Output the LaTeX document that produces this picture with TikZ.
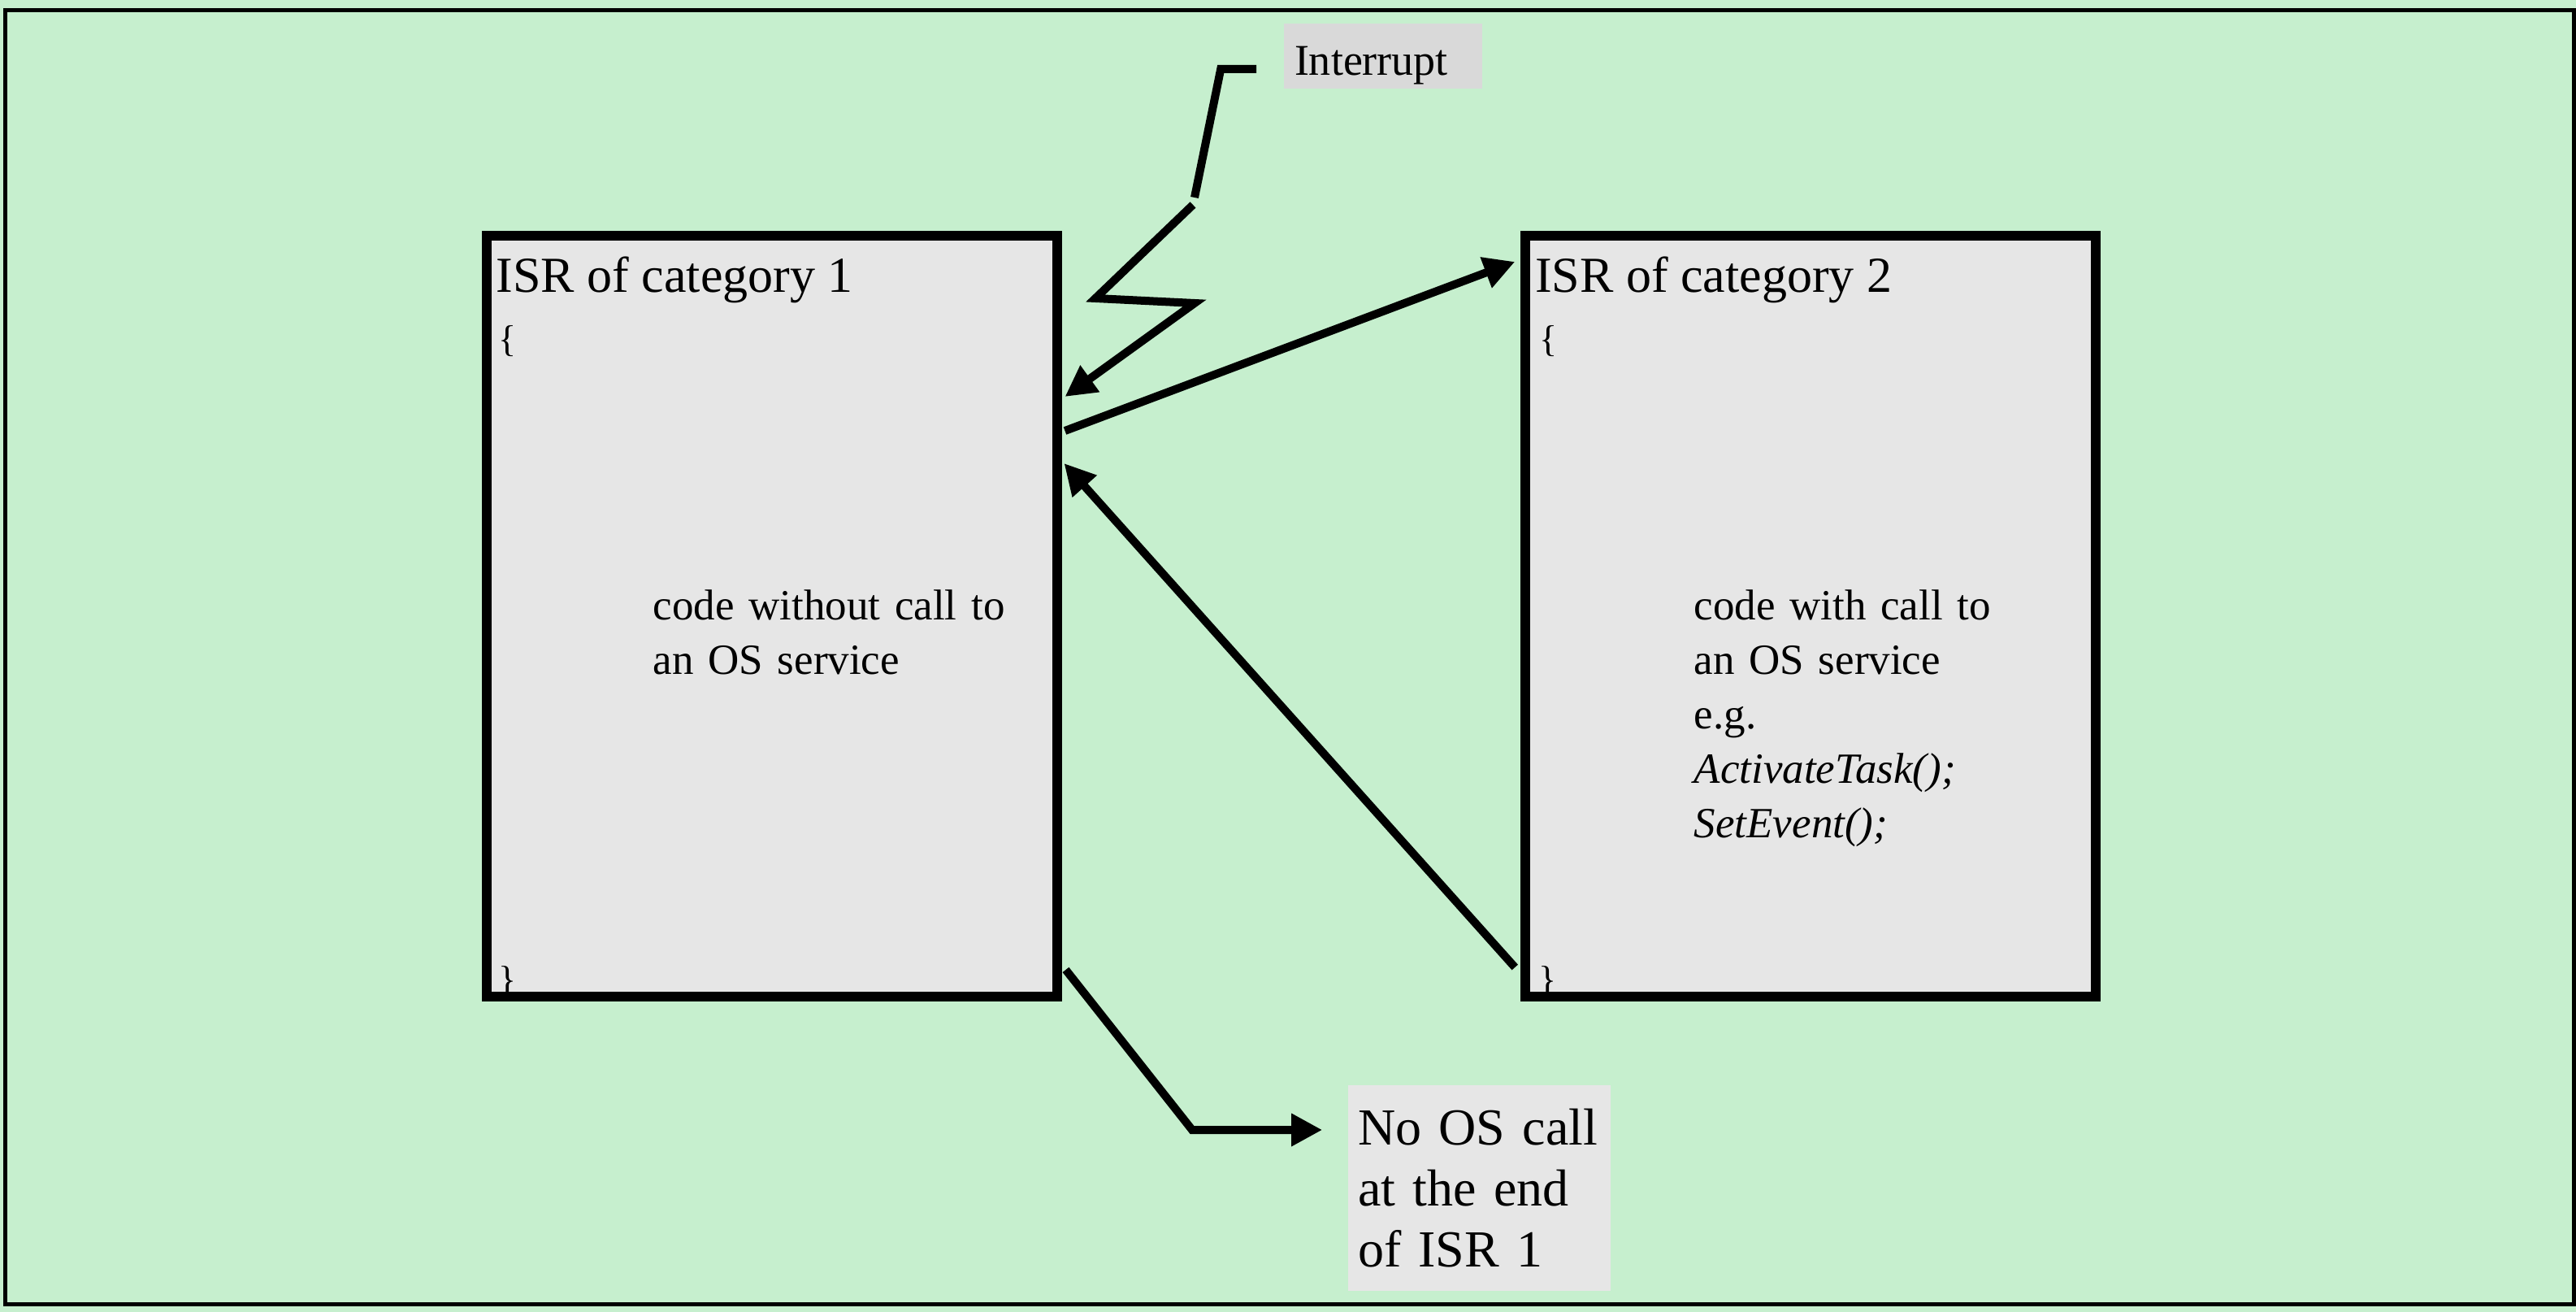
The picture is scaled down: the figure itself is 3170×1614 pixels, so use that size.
\documentclass[tikz,border=0pt]{standalone}
\usepackage{fontspec}
\setmainfont{Liberation Serif}
\usetikzlibrary{arrows.meta,calc}

\definecolor{bggreen}{HTML}{C6EFCE}
\definecolor{boxgray}{HTML}{E6E6E6}
\definecolor{labelgray}{HTML}{D9D9D9}

\begin{document}
\begin{tikzpicture}[
  x=0.25pt,
  y=-0.25pt,
  >={Triangle[length=9.5pt,width=9.5pt]},
  line join=miter,
  isrbox/.style={draw, fill=boxgray, line width=3pt, inner sep=0pt,
    minimum width=175.5pt, minimum height=234pt},
  title/.style={inner sep=0pt, anchor=base west,
    font=\fontsize{15.5pt}{18pt}\selectfont},
  brace/.style={inner sep=0pt, anchor=base west,
    font=\fontsize{11.5pt}{13pt}\selectfont},
  code/.style={inner sep=0pt, anchor=base west, text width=120pt, align=left,
    font=\fontsize{13.25pt}{16.75pt}\selectfont},
  wire/.style={line width=2.5pt},
  flow/.style={->, line width=2.5pt}
]
  \useasboundingbox (0,0) rectangle (3170,1614);
  \fill[bggreen] (0,0) rectangle (3170,1614);
  \draw[line width=1.25pt] (6.5,13) rectangle (3167.5,1604.5);

  % the two ISR boxes
  \node[isrbox] (isr1) at (949.5,758) {};
  \node[isrbox] (isr2) at (2228.25,758) {};

  \node[title] (title1) at ($(isr1.north west)+(17.5,76)$) {ISR of category 1};
  \node[title] (title2) at ($(isr2.north west)+(17,76)$) {ISR of category 2};
  \node[brace] (open1) at ($(title1.base west)+(3,73)$) {\{};
  \node[brace] (open2) at ($(title2.base west)+(5,73)$) {\{};
  \node[brace] (close1) at ($(isr1.south west)+(20.5,-12)$) {\}};
  \node[brace] (close2) at ($(isr2.south west)+(21.75,-12)$) {\}};

  \node[code] (body1) at ($(isr1.north west)+(210.5,479)$)
    {code without call to\\an OS service};
  \node[code] (body2) at ($(isr2.north west)+(212.75,479)$)
    {code with call to\\an OS service\\e.g.\\\textit{ActivateTask();}\\\textit{SetEvent();}};

  % labels
  \node[fill=labelgray, inner xsep=3.25pt, inner ysep=0pt, text width=54.5pt,
    align=left, text height=16pt, text depth=4pt,
    font=\fontsize{13.5pt}{16pt}\selectfont] (intr) at (1702,69) {Interrupt};
  \node[fill=boxgray, inner xsep=3pt, text width=74.75pt, minimum height=63.25pt,
    align=left, font=\fontsize{16pt}{18.75pt}\selectfont] (noos) at (1820.5,1461.5)
    {No OS call\\at the end\\of ISR 1};

  % interrupt flash
  \coordinate (zig1) at (1470,243);
  \coordinate (zig2) at (1468,252);
  \coordinate (zig3) at (1348,367);
  \coordinate (zig4) at (1470,373);
  \draw[wire] ($(intr.west)+(-33,16)$) -- ++(-44,0) -- (zig1);
  \draw[flow] (zig2) -- (zig3) -- (zig4) -- ($(isr1.north east)+(4,204)$);

  \draw[flow] ($(isr1.north east)+(4,246)$) -- ($(isr2.north west)+(-7,38)$);
  \draw[flow] ($(isr2.south west)+(-7,-42)$) -- ($(isr1.north east)+(3,286)$);

  \coordinate (bend) at (1467,1390);
  \draw[flow] ($(isr1.south east)+(5,-39)$) -- (bend) -- ($(bend -| noos.west)+(-31,0)$);
\end{tikzpicture}
\end{document}
